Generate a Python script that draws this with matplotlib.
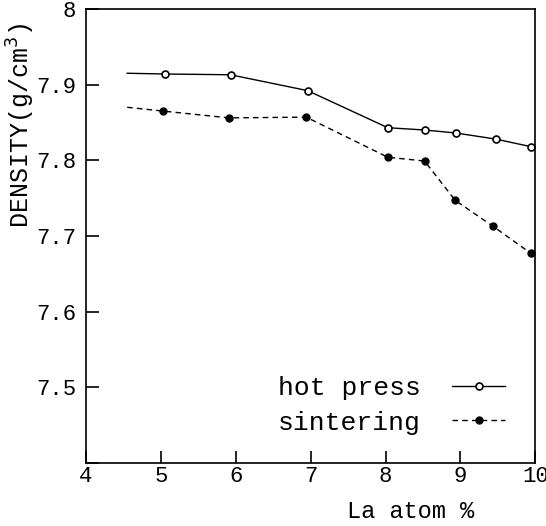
import numpy as np
import matplotlib.pyplot as plt

# hot press (open circles, solid line)
hp_x = [4.55, 5.05, 5.93, 6.96, 8.03, 8.52, 8.94, 9.47, 9.94]
hp_y = [7.915, 7.914, 7.913, 7.892, 7.843, 7.840, 7.836, 7.828, 7.818]
# sintering (filled circles, dashed line)
si_x = [4.55, 5.03, 5.91, 6.94, 8.03, 8.52, 8.93, 9.43, 9.94]
si_y = [7.870, 7.865, 7.856, 7.857, 7.804, 7.799, 7.747, 7.713, 7.677]

xticks = [4, 5, 6, 7, 8, 9, 10]
yticks = [7.4, 7.5, 7.6, 7.7, 7.8, 7.9, 8.0]
ytick_labels = ['', '7.5', '7.6', '7.7', '7.8', '7.9', '8']

plt.rcParams['font.family'] = ['Liberation Mono', 'DejaVu Sans Mono']

fig = plt.figure(figsize=(5.46, 5.26), dpi=100)
ax = fig.add_axes([0.1575, 0.12, 0.823, 0.863])

ax.plot(hp_x, hp_y, color='black', lw=1.0, ls='-', marker='o', markevery=range(1, len(hp_x)),
        markersize=5, markerfacecolor='white', markeredgecolor='black', markeredgewidth=1.2,
        label='hot press')
ax.plot(si_x, si_y, color='black', lw=1.0, ls=(0, (4, 3)), marker='o', markevery=range(1, len(si_x)),
        markersize=5, markerfacecolor='black', markeredgecolor='black',
        label='sintering')

ax.set_xlim(4, 10)
ax.set_ylim(7.4, 8.0)
ax.set_xticks(xticks)
ax.set_xticklabels([str(t) for t in xticks])
ax.set_yticks(yticks)
ax.set_yticklabels(ytick_labels)
ax.tick_params(direction='in', length=9, width=1.2, labelsize=16)
ax.tick_params(axis='x', pad=2)
ax.tick_params(axis='y', pad=7)

for s in ax.spines.values():
    s.set_linewidth(1.2)

# axis titles placed where the original has them
fig.text(411 / 546, 1 - 512 / 526, 'La atom %', fontsize=17, ha='center', va='center')
fig.text(21 / 546, 1 - 126 / 526, 'DENSITY(g/cm$^3$)', fontsize=18, rotation=90,
         ha='center', va='center')

ax.legend(loc='lower right', bbox_to_anchor=(0.933, 0.062), frameon=False, markerfirst=False,
          fontsize=19, handlelength=2.0, handletextpad=1.2, labelspacing=0.4,
          borderpad=0, borderaxespad=0)

fig.savefig('out.png', dpi=100)
